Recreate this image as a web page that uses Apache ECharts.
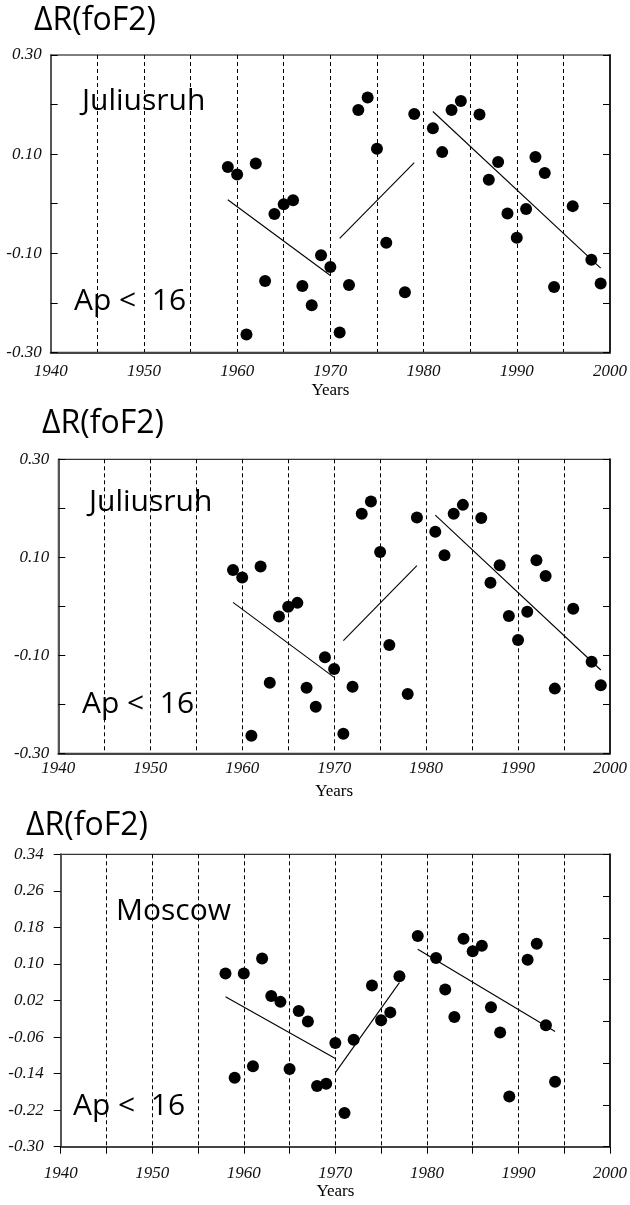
<!DOCTYPE html>
<html>
<head>
<meta charset="utf-8">
<script src="https://cdn.jsdelivr.net/npm/echarts@6/dist/echarts.min.js"></script>
<style>
html,body{margin:0;padding:0;background:#fff;}
#chart{width:630px;height:1205px;}
</style>
</head>
<body>
<div id="chart"></div>
<script>
// ---- Data ----
const julYears = [1959,1960,1961,1962,1963,1964,1965,1966,1967,1968,1969,1970,1971,1972,1973,1974,1975,1976,1978,1979,1981,1982,1983,1984,1986,1987,1988,1989,1990,1991,1992,1993,1994,1996,1998,1999];
const julValues = [0.074,0.059,-0.264,0.081,-0.156,-0.021,-0.001,0.007,-0.166,-0.205,-0.104,-0.128,-0.260,-0.164,0.189,0.214,0.111,-0.079,-0.179,0.181,0.152,0.104,0.189,0.207,0.180,0.048,0.084,-0.020,-0.069,-0.011,0.094,0.062,-0.168,-0.005,-0.113,-0.161];
const julTrend1 = [[1959,0.008],[1970,-0.145]];
const julTrend2 = [[1971,-0.070],[1979,0.083]];
const julTrend3 = [[1981,0.186],[1999,-0.130]];

const mosYears = [1958,1959,1960,1961,1962,1963,1964,1965,1966,1967,1968,1969,1970,1971,1972,1974,1975,1976,1977,1979,1981,1982,1983,1984,1985,1986,1987,1988,1989,1991,1992,1993,1994];
const mosValues = [0.079,-0.149,0.079,-0.124,0.112,0.030,0.017,-0.130,-0.003,-0.026,-0.167,-0.162,-0.073,-0.226,-0.066,0.053,-0.023,-0.006,0.073,0.161,0.113,0.044,-0.016,0.155,0.128,0.140,0.005,-0.050,-0.190,0.109,0.144,-0.034,-0.158];
const mosTrend1 = [[1958,0.028],[1970,-0.107]];
const mosTrend2 = [[1970,-0.138],[1977,0.059]];
const mosTrend3 = [[1979,0.132],[1994,-0.048]];

const julRange = [-0.30, 0.30];
const mosRange = [-0.30, 0.34];
const julTickLabels = ['-0.30','','-0.10','','0.10','','0.30'];
const mosTickLabels = ['-0.30','-0.22','-0.14','-0.06','0.02','0.10','0.18','0.26','0.34'];
const mosRightTicks = 7;
const yearRange = [1940, 2000];
const titleText = 'ΔR(foF2)';
const stations = ['Juliusruh','Juliusruh','Moscow'];
const condText = 'Ap <  16';
const xName = 'Years';

// ---- Chart ----
const chart = echarts.init(document.getElementById('chart'), null, {renderer:'canvas'});
const serif = '"Liberation Serif", "Times New Roman", serif';
const sans = '"Open Sans", "Noto Sans", sans-serif';

const grids = [
  {left:50.7, top:55, width:559.3, height:297.3},
  {left:58.3, top:459.3, width:553.2, height:294},
  {left:60.7, top:854.3, width:549.8, height:292.4}
];
const xOuterTicks = [false,false,true];
const xLabelMargin = [11, 7, 18];
const yLabelMargin = [9, 9, 17];

function xAxisFor(i){
  return {
    gridIndex:i, type:'value', min:yearRange[0], max:yearRange[1], interval:5,
    axisLine:{show:true, onZero:false, lineStyle:{color:'#444', width:2}},
    axisTick:{show:xOuterTicks[i], inside:false, length:7, lineStyle:{color:'#000', width:1}},
    axisLabel:{show:true, showMinLabel:true, showMaxLabel:true, margin:xLabelMargin[i],
      formatter:v => (v % 10 === 0 ? String(v) : ''),
      fontFamily:serif, fontStyle:'italic', fontSize:17, color:'#111'},
    splitLine:{show:true, lineStyle:{type:[4,3], color:'#000', width:1}},
    name:xName, nameLocation:'middle', nameGap:30,
    nameTextStyle:{fontFamily:serif, fontSize:17, color:'#000'}
  };
}
function yDataAxis(i, range){
  return {gridIndex:i, type:'value', min:range[0], max:range[1], show:false,
    axisLine:{show:false, onZero:false}, splitLine:{show:false}};
}
function yLeftAxis(i, labels, inside){
  return {
    gridIndex:i, type:'value', position:'left', min:0, max:labels.length-1, interval:1,
    axisLine:{show:true, onZero:false, lineStyle:{color:'#555', width:2}},
    axisTick:{show:true, inside:inside, length:7, lineStyle:{color:'#000', width:1}},
    axisLabel:{show:true, showMinLabel:true, showMaxLabel:true, margin:yLabelMargin[i],
      formatter:v => labels[Math.round(v)] || '',
      fontFamily:serif, fontStyle:'italic', fontSize:17, color:'#111'},
    splitLine:{show:false}
  };
}
function yRightAxis(i, n){
  return {
    gridIndex:i, type:'value', position:'right', min:0, max:n, interval:1,
    axisLine:{show:true, onZero:false, lineStyle:{color:'#222', width:2}},
    axisTick:{show:true, inside:true, length:7, lineStyle:{color:'#000', width:1}},
    axisLabel:{show:false}, splitLine:{show:false}
  };
}
function zip(xs, ys){ return xs.map((x,k)=>[x, ys[k]]); }
function scatter(i, yIdx, xs, ys){
  return {type:'scatter', xAxisIndex:i, yAxisIndex:yIdx, data:zip(xs,ys),
    symbol:'circle', symbolSize:12, itemStyle:{color:'#000', opacity:1}, z:5};
}
function trend(i, yIdx, pts){
  return {type:'line', xAxisIndex:i, yAxisIndex:yIdx, data:pts, showSymbol:false,
    symbol:'none', lineStyle:{color:'#000', width:1.1}, z:4};
}

const titlePos = [[34,21],[42,424],[26,826]];
const stationPos = [[82,101],[89,502],[116,911]];
const condPos = [[74,301],[82,704],[73,1106]];
const graphics = [];
for (let i=0;i<3;i++){
  graphics.push({type:'text', x:titlePos[i][0], y:titlePos[i][1], z:10,
    style:{text:titleText, font:'32px ' + sans, fill:'#000', align:'left', verticalAlign:'middle'}});
  graphics.push({type:'text', x:stationPos[i][0], y:stationPos[i][1], z:10,
    style:{text:stations[i], font:'30px ' + sans, fill:'#000', align:'left', verticalAlign:'middle'}});
  graphics.push({type:'text', x:condPos[i][0], y:condPos[i][1], z:10,
    style:{text:condText, font:'30px ' + sans, fill:'#000', align:'left', verticalAlign:'middle'}});
}

const option = {
  animation:false,
  backgroundColor:'#fff',
  grid: grids.map(g => Object.assign({show:true, borderColor:'#000', borderWidth:1, backgroundColor:'transparent'}, g)),
  xAxis:[xAxisFor(0), xAxisFor(1), xAxisFor(2)],
  yAxis:[
    yDataAxis(0, julRange), yLeftAxis(0, julTickLabels, true), yRightAxis(0, julTickLabels.length-1),
    yDataAxis(1, julRange), yLeftAxis(1, julTickLabels, true), yRightAxis(1, julTickLabels.length-1),
    yDataAxis(2, mosRange), yLeftAxis(2, mosTickLabels, false), yRightAxis(2, mosRightTicks)
  ],
  series:[
    scatter(0, 0, julYears, julValues),
    trend(0, 0, julTrend1), trend(0, 0, julTrend2), trend(0, 0, julTrend3),
    scatter(1, 3, julYears, julValues),
    trend(1, 3, julTrend1), trend(1, 3, julTrend2), trend(1, 3, julTrend3),
    scatter(2, 6, mosYears, mosValues),
    trend(2, 6, mosTrend1), trend(2, 6, mosTrend2), trend(2, 6, mosTrend3)
  ],
  graphic: graphics
};
chart.setOption(option);
</script>
</body>
</html>
